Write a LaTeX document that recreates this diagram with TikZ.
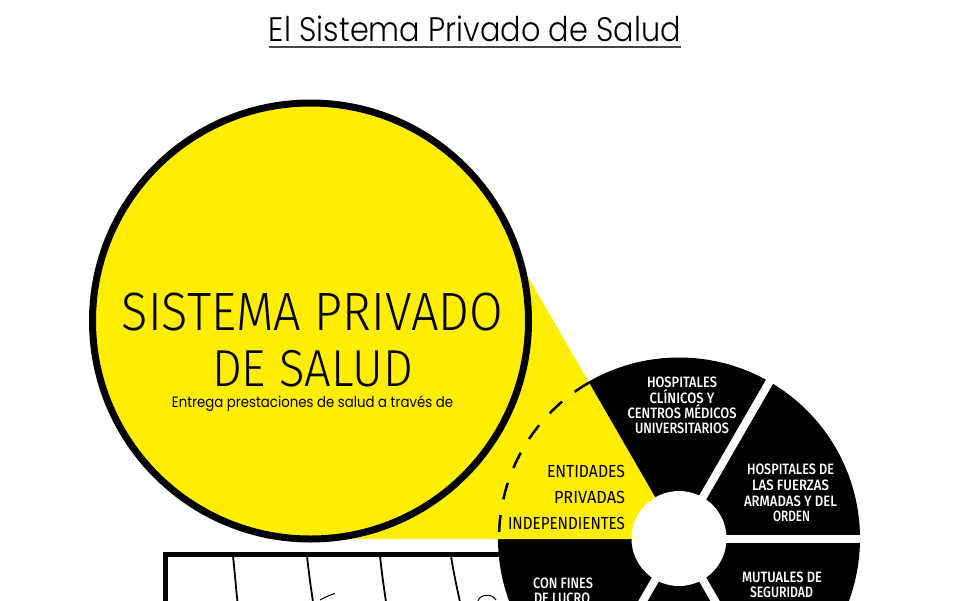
\documentclass[tikz,border=0pt]{standalone}
\usepackage{fontspec}
\usepackage{graphicx}
\newfontfamily\titlefont{Poppins Light}
\newfontfamily\subfont{Poppins}
\newfontfamily\bigfont{Fira Sans Light}
\newfontfamily\segfont{Fira Sans Medium}
\newfontfamily\entfont{Fira Sans}
\newcommand\fitw[2]{\resizebox{#1pt}{\height}{#2}}
\definecolor{sysyellow}{RGB}{255,238,0}
\definecolor{ulgray}{RGB}{70,70,70}
\tikzset{
  txt/.style={inner sep=0pt, outer sep=0pt},
  segtxt/.style={txt, anchor=base, text=white, font=\segfont\fontsize{15}{15}\selectfont},
  enttxt/.style={txt, anchor=base east, text=black, font=\entfont\fontsize{17.5}{17.5}\selectfont},
  bigtxt/.style={txt, anchor=base, font=\bigfont\fontsize{54}{54}\selectfont},
  sepline/.style={white, line width=8pt},
  tableline/.style={black, line width=5pt},
  thinline/.style={black, line width=1.8pt},
}
\begin{document}
\begin{tikzpicture}[x=1pt,y=-1pt]
\useasboundingbox (0,0) rectangle (960,600);
\fill[white] (0,0) rectangle (960,600);

% title
\node[txt, anchor=base, font=\titlefont\fontsize{34}{34}\selectfont] (title) at (475,41.5) {\fitw{412}{El Sistema Privado de Salud}};
\draw[ulgray, line width=1.5pt] (269,47) -- (681,47);

% table at the bottom
\draw[tableline] (163,554.5) -- (520,554.5);
\draw[tableline] (165.5,552) -- (165.5,605);
\draw[thinline] (233,556) .. controls (235,575) and (236,588) .. (237.5,602);
\draw[thinline] (307,556) .. controls (309,575) and (311,588) .. (313,602);
\draw[thinline] (380,556) .. controls (382,575) and (384,588) .. (386,602);
\draw[thinline] (451,556) .. controls (454,575) and (457,588) .. (460,602);
\draw[line width=1pt] (320,600) .. controls (325,597) and (330,595) .. (335,593.5);
\draw[line width=1pt] (478,601) .. controls (480,594) and (492,593) .. (496,600);

% wheel
\coordinate (wc) at (679,538.5);
\fill[black] (wc) circle (181);

% yellow connection
\fill[sysyellow] (265,539) -- (679,539) -- (wc) -- ++(-120:330) -- (310.5,321) -- cycle;

% big circle
\node[circle, draw=black, fill=sysyellow, line width=7pt, minimum size=436pt, inner sep=0pt] (big) at (310.5,321) {};

% separators
\draw[sepline] (wc) -- ++(-60:200);
\draw[sepline] (wc) -- ++(0:200);
\draw[sepline] (wc) -- ++(60:200);
\draw[sepline] (wc) -- ++(120:200);
\node[circle, fill=white, minimum size=95pt, inner sep=0pt] (hub) at (wc) {};

% dashed outline of the yellow segment
\draw[black, line width=2.5pt, dash pattern=on 17pt off 16pt] (wc) ++(-120:180) arc[start angle=240, end angle=180, radius=180];

% big circle texts
\node[bigtxt] (t1) at (312.5,330) {\fitw{381}{SISTEMA PRIVADO}};
\node[bigtxt, font=\bigfont\fontsize{52}{52}\selectfont] (t2) at (312.5,386) {\fitw{201}{DE SALUD}};
\node[txt, anchor=base, font=\subfont\fontsize{15}{15}\selectfont] (t3) at (312.5,407) {\fitw{281}{Entrega prestaciones de salud a través de}};

% yellow segment texts
\node[enttxt] (e1) at (625,477) {\fitw{78}{ENTIDADES}};
\node[enttxt] (e2) at (625,503) {\fitw{71}{PRIVADAS}};
\node[enttxt] (e3) at (625,529) {\fitw{117}{INDEPENDIENTES}};

% top segment
\node[segtxt] (a1) at (682,387) {\fitw{70}{HOSPITALES}};
\node[segtxt] (a2) at (682,403) {\fitw{65}{CLÍNICOS Y}};
\node[segtxt] (a3) at (682,418) {\fitw{109}{CENTROS MÉDICOS}};
\node[segtxt] (a4) at (682,433) {\fitw{94}{UNIVERSITARIOS}};

% right upper segment
\node[segtxt] (b1) at (790.5,474) {\fitw{87}{HOSPITALES DE}};
\node[segtxt] (b2) at (790.5,490) {\fitw{77}{LAS FUERZAS}};
\node[segtxt] (b3) at (790.5,506) {\fitw{93}{ARMADAS Y DEL}};
\node[segtxt] (b4) at (791.5,521) {\fitw{37}{ORDEN}};

% right lower segment
\node[segtxt] (c1) at (782,582) {\fitw{80}{MUTUALES DE}};
\node[segtxt] (c2) at (781.5,597.5) {\fitw{63}{SEGURIDAD}};

% left lower segment
\node[segtxt] (d1) at (563,588) {\fitw{60}{CON FINES}};
\node[segtxt] (d2) at (562,603.5) {\fitw{56}{DE LUCRO}};
\end{tikzpicture}
\end{document}
